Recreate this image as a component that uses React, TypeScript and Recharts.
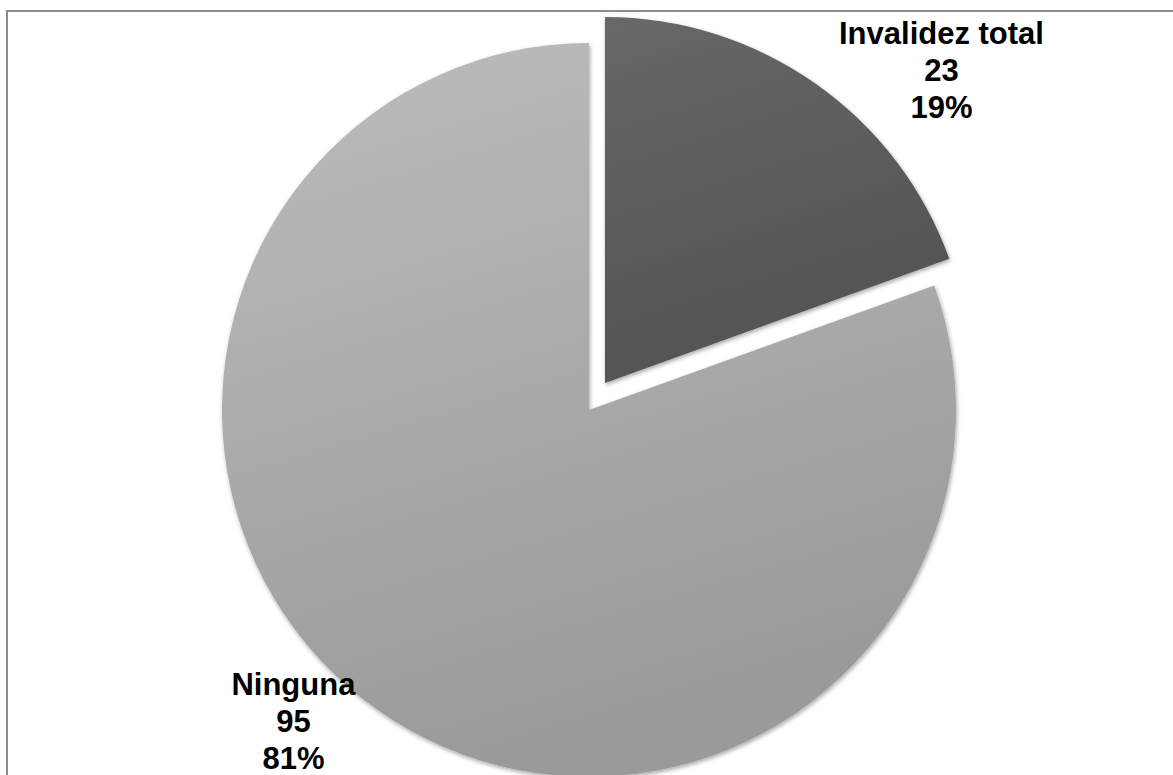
import React from "react";
import { PieChart, Pie, Cell } from "recharts";

const categories = ["Invalidez total", "Ninguna"];
const values = [23, 95];
const total = values.reduce((a, b) => a + b, 0);
const data = categories.map((name, i) => ({ name, value: values[i] }));

const W = 1173;
const H = 775;
const RAD = Math.PI / 180;
const FONT = "'Liberation Sans', Arial, sans-serif";

// label placement (angle in degrees, math convention, and radius factor)
const labelPlacement: Record<number, { angle: number; k: number }> = {
  0: { angle: 42.9, k: 1.255 },
  1: { angle: -133.5, k: 1.17 },
};

const makeLabel = (only: number) => (props: any) => {
  const { cx, cy, outerRadius, index, name, value } = props;
  if (index !== only) return null;
  const p = labelPlacement[index];
  const r = outerRadius * p.k;
  const x = cx + r * Math.cos(-p.angle * RAD);
  const y = cy + r * Math.sin(-p.angle * RAD);
  const pct = Math.round((value / total) * 100);
  return (
    <text
      x={x}
      y={y}
      textAnchor="middle"
      fill="#000"
      fontFamily={FONT}
      fontWeight="bold"
      fontSize={31}
    >
      <tspan x={x} y={y - 26}>{name}</tspan>
      <tspan x={x} y={y + 11}>{value}</tspan>
      <tspan x={x} y={y + 48}>{pct}%</tspan>
    </text>
  );
};

export default function App() {
  return (
    <div
      style={{
        position: "fixed",
        left: 0,
        top: 0,
        width: W,
        height: H,
        overflow: "hidden",
        background: "#fff",
      }}
    >
      <div
        style={{
          position: "absolute",
          left: 6,
          top: 10,
          width: W + 40,
          height: H + 40,
          border: "2px solid #8c8c8c",
          boxSizing: "border-box",
        }}
      />
      <div style={{ position: "absolute", left: 0, top: 0 }}>
        <PieChart width={W} height={H} margin={{ top: 0, right: 0, bottom: 0, left: 0 }}>
          <defs>
            <linearGradient id="gNinguna" x1="0" y1="0" x2="0.3" y2="1">
              <stop offset="0%" stopColor="#bdbdbd" />
              <stop offset="100%" stopColor="#9a9a9a" />
            </linearGradient>
            <linearGradient id="gInvalidez" x1="0" y1="0" x2="0.3" y2="1">
              <stop offset="0%" stopColor="#686868" />
              <stop offset="100%" stopColor="#525252" />
            </linearGradient>
            <filter id="bevel" x="-5%" y="-5%" width="110%" height="110%">
              <feDropShadow dx="1" dy="2" stdDeviation="2" floodColor="#000" floodOpacity="0.35" />
            </filter>
          </defs>
          <Pie
            data={data}
            dataKey="value"
            nameKey="name"
            cx={589}
            cy={410}
            outerRadius={367}
            startAngle={90}
            endAngle={-270}
            stroke="none"
            isAnimationActive={false}
            label={makeLabel(1)}
            labelLine={false}
            style={{ filter: "url(#bevel)" }}
          >
            <Cell fill="transparent" />
            <Cell fill="url(#gNinguna)" />
          </Pie>
          <Pie
            data={data}
            dataKey="value"
            nameKey="name"
            cx={605}
            cy={383}
            outerRadius={366}
            startAngle={90}
            endAngle={-270}
            stroke="none"
            isAnimationActive={false}
            label={makeLabel(0)}
            labelLine={false}
            style={{ filter: "url(#bevel)" }}
          >
            <Cell fill="url(#gInvalidez)" />
            <Cell fill="transparent" />
          </Pie>
        </PieChart>
      </div>
    </div>
  );
}
